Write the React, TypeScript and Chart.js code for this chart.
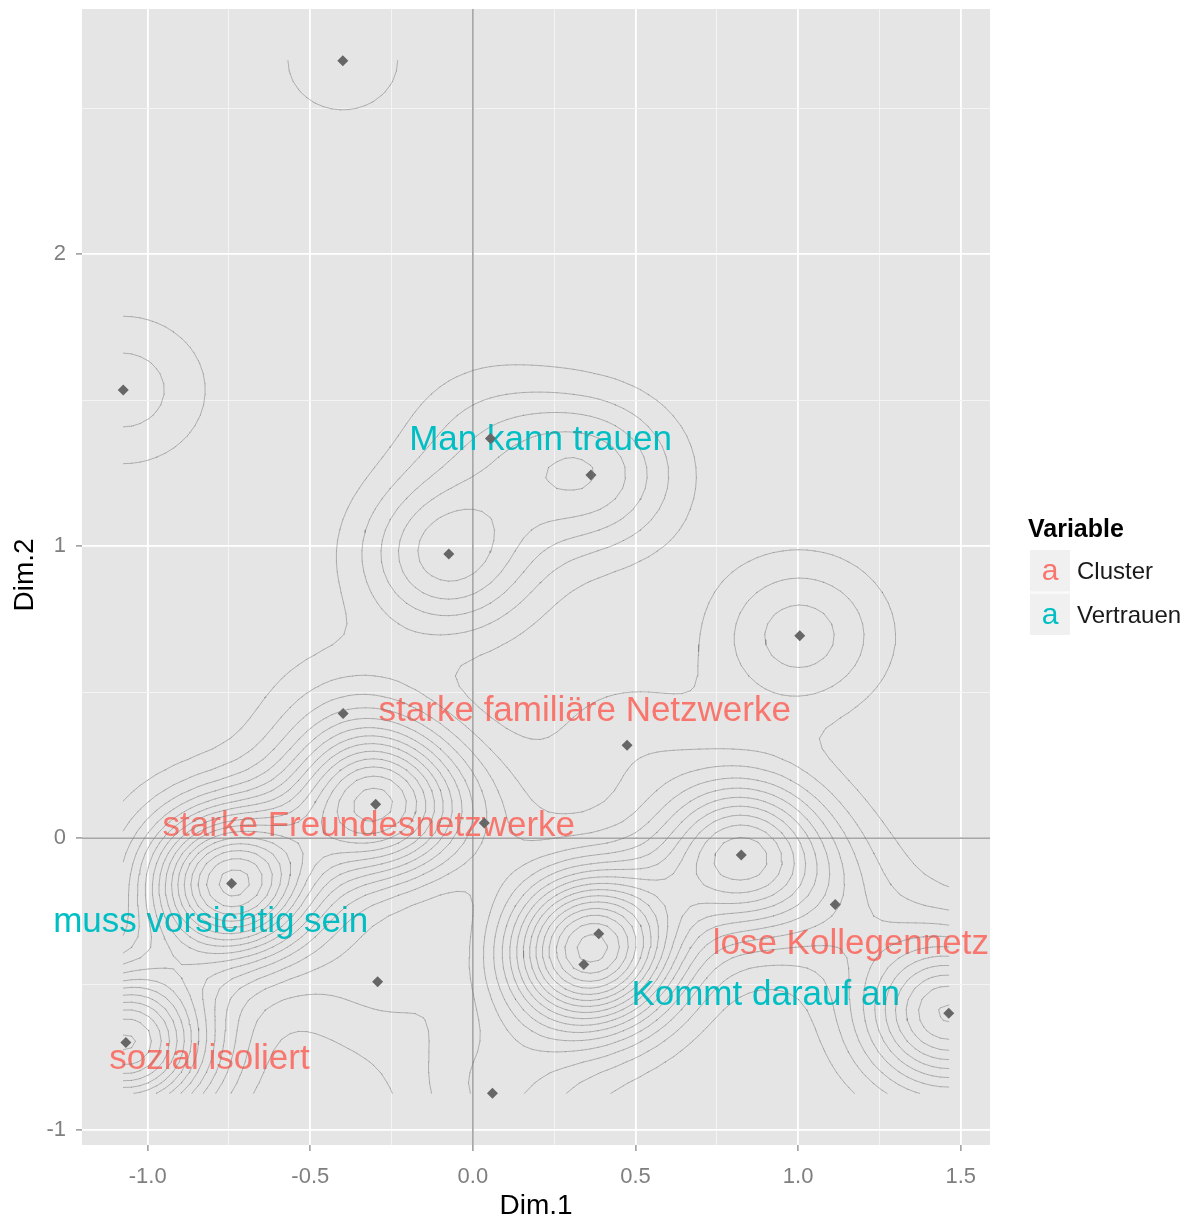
import React, { useEffect, useRef } from 'react';
import { Chart, registerables } from 'chart.js';

Chart.register(...registerables);

const FONT = "'Liberation Sans', Arial, Helvetica, sans-serif";

// Individuals on the first two dimensions; identical profiles share a position (pointCount).
const pointDim1 = [-0.4, -1.075, 0.054, 0.363, -0.074, 1.005, -0.399, 0.474, -0.299, 0.035, -0.742, 0.825, 1.114, 0.387, 0.341, -0.293, 1.463, -1.067, 0.06];
const pointDim2 = [2.663, 1.535, 1.369, 1.244, 0.973, 0.693, 0.427, 0.318, 0.116, 0.052, -0.155, -0.058, -0.227, -0.327, -0.433, -0.492, -0.6, -0.7, -0.874];
const pointCount = [3, 5, 4, 9, 11, 7, 3, 3, 25, 3, 32, 20, 4, 17, 17, 4, 20, 28, 6];

// Category coordinates of the two active variables.
const categoryNames = ['Man kann trauen', 'starke familiäre Netzwerke', 'starke Freundesnetzwerke', 'muss vorsichtig sein', 'lose Kollegennetz', 'Kommt darauf an', 'sozial isoliert'];
const categoryDim1 = [0.208, 0.344, -0.32, -0.806, 1.162, 0.9, -0.81];
const categoryDim2 = [1.361, 0.433, 0.039, -0.287, -0.362, -0.537, -0.759];
const categoryVariable = ['Vertrauen', 'Cluster', 'Cluster', 'Vertrauen', 'Cluster', 'Vertrauen', 'Cluster'];

const variableNames = ['Cluster', 'Vertrauen'];
const variableColors = ['#F8766D', '#00BFC4'];

const xMajorTicks = [-1, -0.5, 0, 0.5, 1, 1.5];
const xMinorTicks = [-0.75, -0.25, 0.25, 0.75, 1.25];
const yMajorTicks = [-1, 0, 1, 2];
const yMinorTicks = [-0.5, 0.5, 1.5, 2.5];

const xTitle = 'Dim.1';
const yTitle = 'Dim.2';
const legendTitle = 'Variable';

// 2-d kernel density settings (normal kernel sd per axis) and number of contour bands.
const KDE_GRID = 100;
const KDE_SD = [0.185, 0.185];
const CONTOUR_LEVELS = 16;

type Pt = { x: number; y: number };

function expandRange(values: number[], mult = 0.05): [number, number] {
  const lo = Math.min(...values);
  const hi = Math.max(...values);
  const pad = (hi - lo) * mult;
  return [lo - pad, hi + pad];
}

function kde2d(xs: number[], ys: number[], ws: number[], n: number, sx: number, sy: number) {
  const x0 = Math.min(...xs), x1 = Math.max(...xs);
  const y0 = Math.min(...ys), y1 = Math.max(...ys);
  const gx = Array.from({ length: n }, (_, i) => x0 + ((x1 - x0) * i) / (n - 1));
  const gy = Array.from({ length: n }, (_, j) => y0 + ((y1 - y0) * j) / (n - 1));
  const total = ws.reduce((s, w) => s + w, 0);
  const norm = 1 / (total * 2 * Math.PI * sx * sy);
  const z = new Float64Array(n * n);
  for (let i = 0; i < n; i++) {
    for (let j = 0; j < n; j++) {
      let s = 0;
      for (let k = 0; k < xs.length; k++) {
        const u = (gx[i] - xs[k]) / sx;
        const v = (gy[j] - ys[k]) / sy;
        s += ws[k] * Math.exp(-0.5 * (u * u + v * v));
      }
      z[i * n + j] = s * norm;
    }
  }
  return { gx, gy, z };
}

// Marching squares: one straight segment per crossed cell, separated by gaps.
function contourSegments(gx: number[], gy: number[], z: Float64Array, levels: number[]): Pt[] {
  const n = gx.length;
  const m = gy.length;
  const out: Pt[] = [];
  const at = (i: number, j: number) => z[i * m + j];
  for (const L of levels) {
    for (let i = 0; i < n - 1; i++) {
      for (let j = 0; j < m - 1; j++) {
        const a = at(i, j), b = at(i + 1, j), c = at(i + 1, j + 1), d = at(i, j + 1);
        const idx = (a > L ? 1 : 0) | (b > L ? 2 : 0) | (c > L ? 4 : 0) | (d > L ? 8 : 0);
        if (idx === 0 || idx === 15) continue;
        const edge = (e: number): Pt => {
          switch (e) {
            case 0: return { x: gx[i] + ((gx[i + 1] - gx[i]) * (L - a)) / (b - a), y: gy[j] };
            case 1: return { x: gx[i + 1], y: gy[j] + ((gy[j + 1] - gy[j]) * (L - b)) / (c - b) };
            case 2: return { x: gx[i] + ((gx[i + 1] - gx[i]) * (L - d)) / (c - d), y: gy[j + 1] };
            default: return { x: gx[i], y: gy[j] + ((gy[j + 1] - gy[j]) * (L - a)) / (d - a) };
          }
        };
        const centreAbove = (a + b + c + d) / 4 > L;
        let pairs: number[][] = [];
        switch (idx) {
          case 1: case 14: pairs = [[3, 0]]; break;
          case 2: case 13: pairs = [[0, 1]]; break;
          case 3: case 12: pairs = [[3, 1]]; break;
          case 4: case 11: pairs = [[1, 2]]; break;
          case 6: case 9: pairs = [[0, 2]]; break;
          case 7: case 8: pairs = [[2, 3]]; break;
          case 5: pairs = centreAbove ? [[0, 1], [2, 3]] : [[3, 0], [1, 2]]; break;
          case 10: pairs = centreAbove ? [[3, 0], [1, 2]] : [[0, 1], [2, 3]]; break;
        }
        for (const [p, q] of pairs) {
          out.push(edge(p), edge(q), { x: NaN, y: NaN });
        }
      }
    }
  }
  return out;
}

const isIn = (list: number[], v: number) => list.some((t) => Math.abs(t - v) < 1e-9);

export default function App() {
  const canvasRef = useRef<HTMLCanvasElement | null>(null);

  useEffect(() => {
    const canvas = canvasRef.current;
    if (!canvas) return;

    const xLim = expandRange([...pointDim1, ...categoryDim1]);
    const yLim = expandRange([...pointDim2, ...categoryDim2]);

    const { gx, gy, z } = kde2d(pointDim1, pointDim2, pointCount, KDE_GRID, KDE_SD[0], KDE_SD[1]);
    let zMax = 0;
    for (let i = 0; i < z.length; i++) zMax = Math.max(zMax, z[i]);
    const step = zMax / (CONTOUR_LEVELS + 0.5);
    const levels = Array.from({ length: CONTOUR_LEVELS }, (_, k) => (k + 1) * step);
    const contourData = contourSegments(gx, gy, z, levels);

    const points = pointDim1.map((x, i) => ({ x, y: pointDim2[i] }));

    const xGrid = [...xMajorTicks, ...xMinorTicks].sort((p, q) => p - q);
    const yGrid = [...yMajorTicks, ...yMinorTicks].sort((p, q) => p - q);

    const decor = {
      id: 'panelDecor',
      beforeDraw(chart: any) {
        const { ctx, chartArea: a } = chart;
        ctx.save();
        ctx.fillStyle = '#FFFFFF';
        ctx.fillRect(0, 0, chart.width, chart.height);
        ctx.fillStyle = '#E5E5E5';
        ctx.fillRect(a.left, a.top, a.right - a.left, a.bottom - a.top);
        ctx.restore();
      },
      beforeDatasetsDraw(chart: any) {
        const { ctx, chartArea: a, scales } = chart;
        const sx = scales.x;
        const sy = scales.y;
        ctx.save();
        // reference lines through the origin
        ctx.strokeStyle = '#8C8C8C';
        ctx.lineWidth = 1.3;
        const x0 = sx.getPixelForValue(0);
        const y0 = sy.getPixelForValue(0);
        ctx.beginPath();
        ctx.moveTo(x0, a.top);
        ctx.lineTo(x0, a.bottom);
        ctx.moveTo(a.left, y0);
        ctx.lineTo(a.right, y0);
        ctx.stroke();
        // category labels
        ctx.font = `35px ${FONT}`;
        ctx.textAlign = 'center';
        ctx.textBaseline = 'middle';
        categoryNames.forEach((name, i) => {
          const g = variableNames.indexOf(categoryVariable[i]);
          ctx.fillStyle = variableColors[g];
          ctx.fillText(name, sx.getPixelForValue(categoryDim1[i]), sy.getPixelForValue(categoryDim2[i]));
        });
        ctx.restore();
      },
      afterDraw(chart: any) {
        const { ctx, chartArea: a } = chart;
        ctx.save();
        // axis titles
        ctx.fillStyle = '#000000';
        ctx.font = `28px ${FONT}`;
        ctx.textAlign = 'center';
        ctx.textBaseline = 'middle';
        ctx.fillText(xTitle, (a.left + a.right) / 2, 1206);
        ctx.save();
        ctx.translate(25, (a.top + a.bottom) / 2 - 2);
        ctx.rotate(-Math.PI / 2);
        ctx.fillText(yTitle, 0, 0);
        ctx.restore();

        // legend
        const lx = 1029;
        ctx.textAlign = 'left';
        ctx.font = `bold 25px ${FONT}`;
        ctx.fillStyle = '#000000';
        ctx.fillText(legendTitle, lx - 1, 530);
        const keyW = 42;
        const keyH = 43.5;
        variableNames.forEach((name, i) => {
          const top = 549 + i * keyH;
          ctx.fillStyle = '#F0F0F0';
          ctx.fillRect(lx, top, keyW, keyH);
          ctx.strokeStyle = '#FFFFFF';
          ctx.lineWidth = 1;
          ctx.strokeRect(lx + 0.5, top + 0.5, keyW - 1, keyH - 1);
          ctx.font = `30px ${FONT}`;
          ctx.textAlign = 'center';
          ctx.fillStyle = variableColors[i];
          ctx.fillText('a', lx + keyW / 2, top + keyH / 2 + 1);
          ctx.font = `24px ${FONT}`;
          ctx.textAlign = 'left';
          ctx.fillStyle = '#1A1A1A';
          ctx.fillText(name, 1077, top + keyH / 2 + 2);
        });
        ctx.restore();
      },
    };

    const chart = new Chart(canvas, {
      type: 'scatter',
      data: {
        datasets: [
          {
            label: 'density',
            data: contourData,
            showLine: true,
            borderColor: 'rgba(120,120,120,0.5)',
            borderWidth: 1,
            pointRadius: 0,
            pointHoverRadius: 0,
            spanGaps: false,
            tension: 0,
            borderCapStyle: 'round',
            borderJoinStyle: 'round',
            order: 0,
          } as any,
          {
            label: 'individuals',
            data: points,
            pointStyle: 'rectRot',
            pointRadius: 5.5,
            pointHoverRadius: 5.5,
            backgroundColor: '#666666',
            borderWidth: 0,
            order: 1,
          } as any,
        ],
      },
      options: {
        animation: false,
        responsive: false,
        events: [],
        layout: { padding: { top: 9, right: 199, left: 0, bottom: 0 } },
        plugins: { legend: { display: false }, tooltip: { enabled: false } },
        scales: {
          x: {
            type: 'linear',
            min: xLim[0],
            max: xLim[1],
            afterBuildTicks: (s: any) => {
              s.ticks = xGrid.map((v) => ({ value: v }));
            },
            afterFit: (s: any) => {
              s.height = 77;
              s.paddingLeft = 0;
              s.paddingRight = 0;
            },
            border: { display: false },
            grid: {
              color: (c: any) => (c.tick && isIn(xMajorTicks, c.tick.value) ? '#FFFFFF' : '#F4F4F4'),
              lineWidth: (c: any) => (c.tick && isIn(xMajorTicks, c.tick.value) ? 1.8 : 1),
              tickColor: (c: any) => (c.tick && isIn(xMajorTicks, c.tick.value) ? '#7F7F7F' : 'rgba(0,0,0,0)'),
              tickLength: 6,
              tickWidth: 1.2,
            },
            ticks: {
              autoSkip: false,
              maxRotation: 0,
              padding: 13,
              color: '#7F7F7F',
              font: { family: FONT, size: 22 },
              callback: (v: any) => (isIn(xMajorTicks, Number(v)) ? Number(v).toFixed(1) : ''),
            },
          },
          y: {
            type: 'linear',
            min: yLim[0],
            max: yLim[1],
            afterBuildTicks: (s: any) => {
              s.ticks = yGrid.map((v) => ({ value: v }));
            },
            afterFit: (s: any) => {
              s.width = 82;
              s.paddingTop = 0;
              s.paddingBottom = 0;
            },
            border: { display: false },
            grid: {
              color: (c: any) => (c.tick && isIn(yMajorTicks, c.tick.value) ? '#FFFFFF' : '#F4F4F4'),
              lineWidth: (c: any) => (c.tick && isIn(yMajorTicks, c.tick.value) ? 1.8 : 1),
              tickColor: (c: any) => (c.tick && isIn(yMajorTicks, c.tick.value) ? '#7F7F7F' : 'rgba(0,0,0,0)'),
              tickLength: 6,
              tickWidth: 1.2,
            },
            ticks: {
              autoSkip: false,
              padding: 10,
              color: '#7F7F7F',
              font: { family: FONT, size: 22 },
              callback: (v: any) => (isIn(yMajorTicks, Number(v)) ? String(Number(v)) : ''),
            },
          },
        },
      } as any,
      plugins: [decor],
    });

    return () => chart.destroy();
  }, []);

  return (
    <div style={{ position: 'absolute', left: 0, top: 0, width: 1189, height: 1222, background: '#FFFFFF' }}>
      <canvas ref={canvasRef} width={1189} height={1222} style={{ display: 'block', width: 1189, height: 1222 }} />
    </div>
  );
}
